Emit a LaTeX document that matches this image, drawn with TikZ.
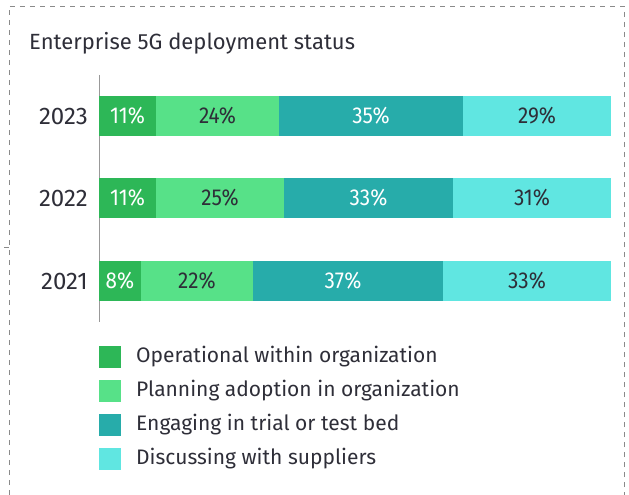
\documentclass[tikz,border=0pt]{standalone}
\usepackage{fontspec}
\setmainfont{Fira Sans}
\newfontfamily\pctfont{Fira Sans}[FakeStretch=0.9]
\definecolor{cOp}{HTML}{2DB757}
\definecolor{cPl}{HTML}{57E188}
\definecolor{cEn}{HTML}{27ACAA}
\definecolor{cDi}{HTML}{60E6E1}
\definecolor{txt}{HTML}{2E2E38}
\definecolor{frame}{HTML}{8A8A8A}
\begin{document}
\begin{tikzpicture}[x=1pt,y=-1pt,
  seg/.style={draw=none,inner sep=0,outer sep=0,minimum height=40pt,anchor=west,
    font=\pctfont\fontsize{23}{26}\selectfont},
  darkt/.style={text=txt},
  lightt/.style={text=white},
  yearlbl/.style={anchor=east,inner sep=0,text=txt,font=\fontsize{24}{28}\selectfont},
  legbox/.style={draw=none,minimum width=22pt,minimum height=22pt,inner sep=0,anchor=west},
  legtxt/.style={anchor=west,inner sep=0,text=txt,font=\fontsize{21}{24}\selectfont},
  framel/.style={draw=frame,line width=0.9pt,dash pattern=on 5pt off 5pt}]
\useasboundingbox (0,0) rectangle (629,495);
% frame
\coordinate (fbl) at (9,495);
\coordinate (ftl) at (9,6);
\coordinate (ftr) at (624,6);
\coordinate (fbr) at (624,495);
\draw[framel] (fbl) -- (ftl) -- (ftr) -- (fbr);
\coordinate (tk1) at (4,247);
\coordinate (tk2) at (9,247);
\draw[draw=frame,line width=0.9pt] (tk1) -- (tk2);
% title
\node[anchor=base west,inner sep=0,text=txt,font=\fontsize{22}{26}\selectfont] (title) at (29,50) {Enterprise 5G deployment status};
% axis
\coordinate (ax1) at (99.5,75);
\coordinate (ax2) at (99.5,322);
\draw[draw=gray!80,line width=1.3pt] (ax1) -- (ax2);
% 2023
\node[yearlbl] (y23) at (88,116) {2023};
\node[seg,fill=cOp,lightt,minimum width=57pt] (a23) at (99,116) {11\%};
\node[seg,fill=cPl,darkt,minimum width=123pt] (b23) at (156,116) {24\%};
\node[seg,fill=cEn,lightt,minimum width=184pt] (c23) at (279,116) {35\%};
\node[seg,fill=cDi,darkt,minimum width=148pt] (d23) at (463,116) {29\%};
% 2022
\node[yearlbl] (y22) at (88,198) {2022};
\node[seg,fill=cOp,lightt,minimum width=57pt] (a22) at (99,198) {11\%};
\node[seg,fill=cPl,darkt,minimum width=128pt] (b22) at (156,198) {25\%};
\node[seg,fill=cEn,lightt,minimum width=169pt] (c22) at (284,198) {33\%};
\node[seg,fill=cDi,darkt,minimum width=158pt] (d22) at (453,198) {31\%};
% 2021
\node[yearlbl] (y21) at (88,281) {2021};
\node[seg,fill=cOp,lightt,minimum width=42pt] (a21) at (99,281) {8\%};
\node[seg,fill=cPl,darkt,minimum width=112pt] (b21) at (141,281) {22\%};
\node[seg,fill=cEn,lightt,minimum width=190pt] (c21) at (253,281) {\hspace*{-10pt}37\%};
\node[seg,fill=cDi,darkt,minimum width=168pt] (d21) at (443,281) {33\%};
% legend
\node[legbox,fill=cOp] (l1) at (99,357) {};
\node[legtxt] (t1) at (136,357) {Operational within organization};
\node[legbox,fill=cPl] (l2) at (99,391) {};
\node[legtxt] (t2) at (136,391) {Planning adoption in organization};
\node[legbox,fill=cEn] (l3) at (99,425) {};
\node[legtxt] (t3) at (136,425) {Engaging in trial or test bed};
\node[legbox,fill=cDi] (l4) at (99,459) {};
\node[legtxt] (t4) at (136,459) {Discussing with suppliers};
\end{tikzpicture}
\end{document}
